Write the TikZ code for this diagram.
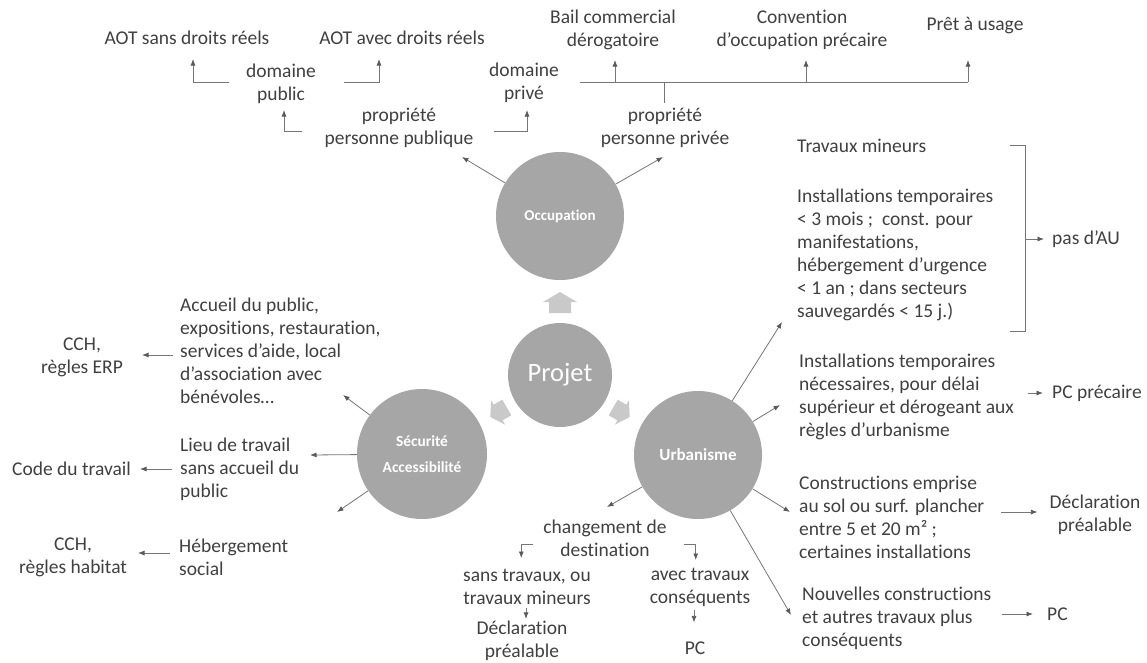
\documentclass[tikz,border=0pt]{standalone}
\usepackage{fontspec}
\setmainfont{Carlito}[Ligatures=NoCommon]
\usetikzlibrary{arrows.meta,calc}
\definecolor{txt}{HTML}{404040}
\definecolor{circfill}{HTML}{A6A6A6}
\definecolor{blk}{HTML}{C9C9C9}
\definecolor{lncol}{HTML}{767676}
\definecolor{tipcol}{HTML}{5A5A5A}
\begin{document}
\begin{tikzpicture}[x=1pt,y=-1pt,
  tx/.style={inner sep=0pt, text=txt, font=\fontsize{19.5}{23}\selectfont},
  txl/.style={tx, align=left, anchor=west},
  txc/.style={tx, align=center},
  bub/.style={circle, fill=circfill, draw=none, inner sep=0pt, text=white, align=center},
  conn/.style={draw=lncol, line width=0.8pt},
  arr/.style={conn, -{Latex[length=6.5pt,width=5pt,color=tipcol]}}]
\fill[white] (0,0) rectangle (1147,662);
\useasboundingbox (0,0) rectangle (1147,662);

% circles
\node[bub, minimum size=128pt, font=\bfseries\fontsize{15}{18}\selectfont] (occ) at (560,216) {Occupation};
\node[bub, minimum size=104pt, font=\fontsize{26.5}{30}\selectfont] (proj) at (560,375) {Projet};
\node[bub, minimum size=130pt, font=\bfseries\fontsize{15.4}{26}\selectfont] (secu) at (422,454) {Sécurité\\Accessibilité};
\node[bub, minimum size=128pt, font=\bfseries\fontsize{17}{20}\selectfont] (urba) at (698,455) {Urbanisme};

% block arrows
\fill[blk, shift={(560,302.5)}, rotate=90] (-10.5,-11) -- (0.5,-11) -- (0.5,-17) -- (10.5,0) -- (0.5,17) -- (0.5,11) -- (-10.5,11) -- cycle;
\fill[blk, shift={(499,412)}, rotate=210] (-9,-9) -- (1,-9) -- (1,-14) -- (10,0) -- (1,14) -- (1,9) -- (-9,9) -- cycle;
\fill[blk, shift={(621,412)}, rotate=-30] (-9,-9) -- (1,-9) -- (1,-14) -- (10,0) -- (1,14) -- (1,9) -- (-9,9) -- cycle;

% top texts
\node[txc] (aotsans) at (187,38) {AOT sans droits réels};
\node[txc] (aotavec) at (402,38) {AOT avec droits réels};
\node[txc] (dompub) at (281,84) {domaine\\public};
\node[txc] (proppub) at (399,128) {propriété\\personne publique};
\node[txc] (dompriv) at (524,83) {domaine\\privé};
\node[txc] (bail) at (613,30) {Bail commercial\\dérogatoire};
\node[txc] (conv) at (802,30) {Convention\\d’occupation précaire};
\node[txc] (pret) at (975,26) {Prêt à usage};
\node[txc] (proppriv) at (665,128) {propriété\\personne privée};

% right texts
\node[txl] (travmin) at (797,146) {Travaux mineurs};
\node[txl] (insttemp) at (797,255) {Installations temporaires\\< 3 mois ; \ const. pour\\manifestations,\\hébergement d’urgence\\< 1 an ; dans secteurs\\sauvegardés < 15 j.)};
\node[txl] (pasau) at (1052,239) {pas d’AU};
\node[txl] (instnec) at (799,397) {Installations temporaires\\nécessaires, pour délai\\supérieur et dérogeant aux\\règles d’urbanisme};
\node[txl] (pcprec) at (1052,393) {PC précaire};
\node[txl] (constr) at (799,517) {Constructions emprise\\au sol ou surf. plancher\\entre 5 et 20 m² ;\\certaines installations};
\node[txc] (decl1) at (1095,515) {Déclaration\\préalable};
\node[txl] (nouv) at (802,618) {Nouvelles constructions\\et autres travaux plus\\conséquents};
\node[txl] (pc1) at (1047,614) {PC};

% bottom texts
\node[txc] (chg) at (605,538) {changement de\\destination};
\node[txc] (sanstrav) at (527,587) {sans travaux, ou\\travaux mineurs};
\node[txc] (decl2) at (522,641) {Déclaration\\préalable};
\node[txc] (avectrav) at (700,587) {avec travaux\\conséquents};
\node[txc] (pc2) at (695,648) {PC};

% left texts
\node[txl] (accueil) at (180,351) {Accueil du public,\\expositions, restauration,\\services d’aide, local\\d’association avec\\bénévoles…};
\node[txc] (cch1) at (82,357) {CCH,\\règles ERP};
\node[txl] (lieu) at (180,469) {Lieu de travail\\sans accueil du\\public};
\node[txl] (code) at (12,469) {Code du travail};
\node[txl] (heberg) at (179,557) {Hébergement\\social};
\node[txc] (cch2) at (73,557) {CCH,\\règles habitat};

% tip coordinates
\coordinate (tOa) at (462,157);
\coordinate (tOb) at (663,157);
\coordinate (tSa) at (343,395);
\coordinate (tSb) at (310,455);
\coordinate (tSc) at (337,512);
\coordinate (tUa) at (782,322);
\coordinate (tUb) at (780,405);
\coordinate (tUc) at (790,512);
\coordinate (tUd) at (791,615);
\coordinate (tUe) at (607,507);

% circle connectors
\draw[arr] (occ) -- (tOa);
\draw[arr] (occ) -- (tOb);
\draw[arr] (secu) -- (tSa);
\draw[arr] (secu) -- (tSb);
\draw[arr] (secu) -- (tSc);
\draw[arr] (urba) -- (tUa);
\draw[arr] (urba) -- (tUb);
\draw[arr] (urba) -- (tUc);
\draw[arr] (urba) -- (tUd);
\draw[arr] (urba) -- (tUe);

% top elbows
\coordinate (e1) at (193,59);
\coordinate (e2) at (379,59);
\coordinate (e3) at (284,110);
\coordinate (e4) at (527,110);
\draw[arr] (dompub.west) ++(-17,-2) -| (e1);
\draw[arr] (dompub.east) ++(28,-2) -| (e2);
\draw[arr] (proppub.west) ++(-22,3) -| (e3);
\draw[arr] (proppub.east) ++(20,3) -| (e4);

% private domain bar
\coordinate (h0) at (580,82);
\coordinate (hb) at (615,82);
\coordinate (hs) at (664,82);
\coordinate (hc) at (806,82);
\coordinate (hp) at (968,82);
\draw[conn] (h0) -- (hp);
\draw[arr] (hb) -- ++(0,-22);
\draw[arr] (hc) -- ++(0,-22);
\draw[arr] (hp) -- ++(0,-22);
\draw[conn] (hs) -- ++(0,21);

% bracket
\coordinate (k1) at (1010,145);
\coordinate (k2) at (1025,331);
\draw[conn] (k1) -- (k1 -| k2) -- (k2) -- (k2 -| k1);
\draw[arr] (k2 |- pasau.west) -- ([xshift=-8pt]pasau.west);

% right small arrows
\draw[arr] (pcprec.west) ++(-24,0) -- ++(15,0);
\draw[arr] (decl1.west) ++(-48,-3) -- ++(36,0);
\draw[arr] (pc1.west) ++(-45,0) -- ++(31,0);

% bottom elbows
\draw[arr] (chg.west) ++(-10,6) -- ++(-12,0) -- ++(0,14);
\draw[arr] (chg.east) ++(17,6) -- ++(12,0) -- ++(0,16);
\draw[arr] (sanstrav.south) ++(-1,3) -- ++(0,11);
\draw[arr] (avectrav.south) ++(-6,4) -- ++(0,12);

% left small arrows
\draw[arr] (accueil.west) ++(-7,4) -- ++(-31,0);
\draw[arr] (lieu.west) ++(-8,0) -- ++(-32,0);
\draw[arr] (heberg.west) ++(-9,-4) -- ++(-32,0);
\end{tikzpicture}
\end{document}
